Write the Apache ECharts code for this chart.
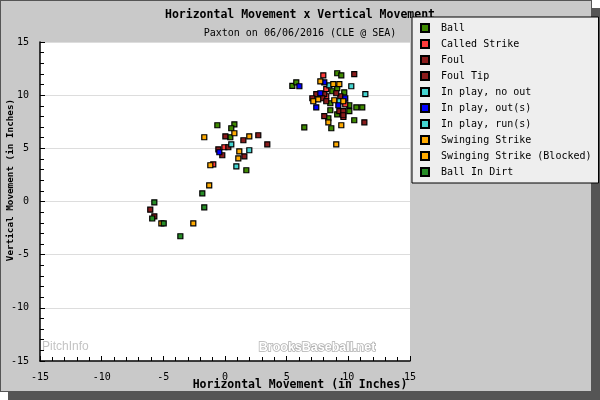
<!DOCTYPE html>
<html>
<head>
<meta charset="utf-8">
<script src="https://cdn.jsdelivr.net/npm/echarts@6/dist/echarts.min.js"></script>
<style>
html,body{margin:0;padding:0;background:#ffffff;}
#frame{position:absolute;left:0;top:0;width:590px;height:390px;background:#c9c9c9;border:1px solid #555;box-shadow:8px 8px 0 #555;}
#chart{position:absolute;left:0;top:0;width:600px;height:400px;}
</style>
</head>
<body>
<div id="frame"></div>
<div id="chart"></div>
<script>
var categories = ['Ball','Called Strike','Foul','Foul Tip','In play, no out','In play, out(s)','In play, run(s)','Swinging Strike','Swinging Strike (Blocked)','Ball In Dirt'];
var colors = ['#3f8a00','#ff3b3b','#8b1c1c','#8b1c1c','#44d4d0','#0000ff','#44d4d0','#ffaa00','#ffaa00','#268c26'];
var xTicks = [-15,-10,-5,0,5,10,15];

var ball = [[5.46,10.87],[5.78,11.21],[9.1,12.06],[9.43,11.87],[8.7,10.37],[9.1,10.65],[9.67,10.27],[8.54,9.24],[10.08,9.05],[10.65,8.86],[11.13,8.86],[8.54,8.58],[10.08,8.49],[9.1,8.2],[8.38,7.83],[10.48,7.64],[6.43,6.98],[8.62,6.89],[-0.62,7.17],[0.76,7.26],[0.51,6.89],[0.43,6.04],[1.73,2.94]];
var calledStrike = [[7.97,11.87],[8.21,10.56],[8.21,9.9],[9.75,9.14],[-0.05,5.1],[-0.95,3.5],[9.6,7.95]];
var foul = [[10.48,11.97],[7.4,10.09],[8.05,10.09],[9.35,9.9],[7.08,9.71],[7.89,9.71],[8.21,9.43],[9.27,8.49],[9.59,8.49],[9.59,8.11],[8.05,8.02],[11.3,7.45],[0.03,6.13],[2.7,6.23],[1.49,5.76],[3.43,5.38],[-0.54,4.91],[0.27,5.1],[-0.22,4.35],[1.57,4.25],[-6.06,-0.77],[-5.73,-1.4]];
var foulTip = [[9.02,10.18]];
var inPlayNoOut = [[8.46,10.93],[10.24,10.84],[11.38,10.09],[9.27,9.43],[0.51,5.38],[1.97,4.82]];
var inPlayOuts = [[6.03,10.84],[8.05,11.21],[7.73,10.18],[9.75,9.71],[9.19,9.05],[7.4,8.86],[-0.46,4.63]];
var inPlayRuns = [[0.92,3.31]];
var swingingStrike = [[7.73,11.3],[8.78,11.03],[9.27,11.03],[7.16,9.43],[7.56,9.61],[8.86,9.52],[9.59,9.43],[8.38,7.45],[9.43,7.17],[9.02,5.38],[-1.68,6.04],[0.76,6.42],[1.97,6.13],[1.16,4.72],[1.08,4.06],[-1.19,3.41],[-1.28,1.52],[-5.16,-2.05]];
var swingingBlocked = [[-2.57,-2.05]];
var ballInDirt = [[-5.73,-0.08],[-5.9,-1.6],[-4.97,-2.05],[-3.62,-3.27],[-1.84,0.77],[-1.68,-0.55]];

var seriesData = [ball, calledStrike, foul, foulTip, inPlayNoOut, inPlayOuts, inPlayRuns, swingingStrike, swingingBlocked, ballInDirt];

var mono = 'DejaVu Sans Mono';
var chart = echarts.init(document.getElementById('chart'));
var series = categories.map(function (name, i) {
  return {
    name: name,
    type: 'scatter',
    symbol: 'rect',
    symbolSize: 5,
    data: seriesData[i],
    itemStyle: {color: colors[i], borderColor: '#000', borderWidth: 1.2, opacity: 1},
    z: 3
  };
});
chart.setOption({
  backgroundColor: 'transparent',
  animation: false,
  title: [
    {text: 'Horizontal Movement x Vertical Movement', left: 'center', top: 4,
     textStyle: {fontFamily: mono, fontSize: 11.5, fontWeight: 'bold', color: '#000'}},
    {text: 'Paxton on 06/06/2016 (CLE @ SEA)', left: 'center', top: 23,
     textStyle: {fontFamily: mono, fontSize: 10, fontWeight: 'normal', color: '#000'}}
  ],
  legend: {
    orient: 'vertical', left: 412, top: 17,
    padding: [5, 7, 5, 8],
    itemWidth: 8, itemHeight: 8, itemGap: 4,
    icon: 'rect',
    backgroundColor: '#eeeeee', borderColor: '#000', borderWidth: 1,
    textStyle: {fontFamily: mono, fontSize: 10, color: '#000', lineHeight: 12, padding: [0, 0, 0, 7]},
    data: categories,
    z: 10
  },
  grid: {left: 40, right: 190, top: 42, bottom: 39, show: true, backgroundColor: '#ffffff', borderWidth: 0},
  xAxis: {
    type: 'value', min: -15, max: 15, interval: 5,
    axisLine: {onZero: false, lineStyle: {color: '#000', width: 1.5}},
    axisTick: {inside: true, length: 5, lineStyle: {color: '#000'}},
    minorTick: {show: true, splitNumber: 5, length: 4, lineStyle: {color: '#000'}},
    splitLine: {show: false},
    axisLabel: {fontFamily: mono, fontSize: 10, color: '#000', margin: 11,
      formatter: function (v) { return xTicks.indexOf(v) >= 0 ? String(v) : ''; }}
  },
  yAxis: {
    type: 'value', min: -15, max: 15, interval: 5,
    axisLine: {onZero: false, lineStyle: {color: '#000', width: 1.5}},
    axisTick: {inside: true, length: 5, lineStyle: {color: '#000'}},
    minorTick: {show: true, splitNumber: 5, length: 4, lineStyle: {color: '#000'}},
    splitLine: {show: true, lineStyle: {color: '#dddddd', width: 1}},
    axisLabel: {fontFamily: mono, fontSize: 10, color: '#000', margin: 11}
  },
  graphic: [
    {type: 'text', left: 42, top: 341, z: 1,
     style: {text: 'PitchInfo', font: '12px Liberation Sans', fill: '#c4c4c4'}},
    {type: 'text', left: 258, top: 340, z: 1,
     style: {text: 'BrooksBaseball.net', font: 'bold 12.5px Liberation Sans', fill: '#ffffff', stroke: '#b0b0b0', lineWidth: 1.5}},
    {type: 'text', x: 300, y: 385, z: 5,
     style: {text: 'Horizontal Movement (in Inches)', font: 'bold 11.5px DejaVu Sans Mono', fill: '#000', align: 'center', verticalAlign: 'middle'}},
    {type: 'text', x: 11, y: 180, rotation: Math.PI / 2, z: 5,
     style: {text: 'Vertical Movement (in Inches)', font: 'bold 9.3px DejaVu Sans Mono', fill: '#000', align: 'center', verticalAlign: 'middle'}}
  ],
  series: series
});
</script>
</body>
</html>
